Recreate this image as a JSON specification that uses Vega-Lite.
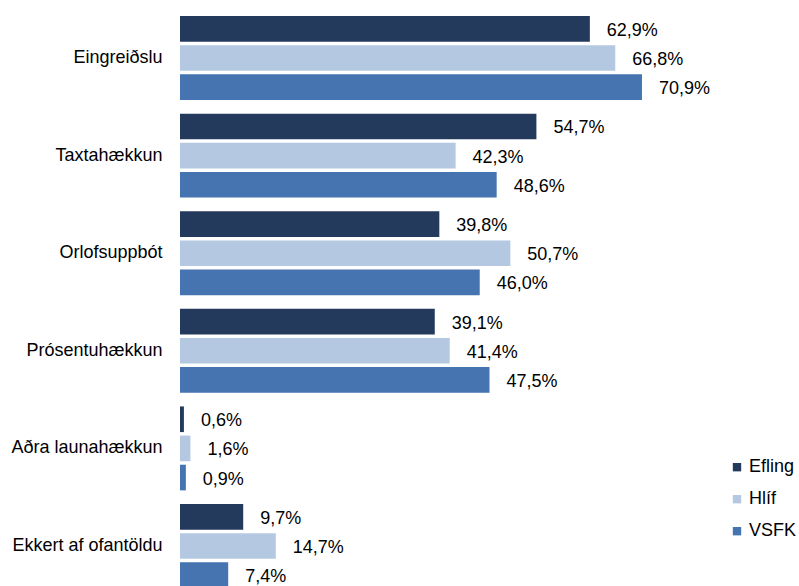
{
  "$schema": "https://vega.github.io/schema/vega-lite/v6.json",
  "width": 619,
  "height": 585.6,
  "autosize": {"type": "none"},
  "padding": {"left": 180, "top": 9.2, "right": 0, "bottom": 0},
  "background": "white",
  "config": {
    "view": {"stroke": null},
    "font": "Liberation Sans",
    "locale": {"number": {"decimal": ",", "thousands": ".", "grouping": [3], "currency": ["", " kr."]}}
  },
  "data": {
    "values": [
      {"category": "Eingreiðslu", "series": "Efling", "value": 0.629},
      {"category": "Eingreiðslu", "series": "Hlíf", "value": 0.668},
      {"category": "Eingreiðslu", "series": "VSFK", "value": 0.709},
      {"category": "Taxtahækkun", "series": "Efling", "value": 0.547},
      {"category": "Taxtahækkun", "series": "Hlíf", "value": 0.423},
      {"category": "Taxtahækkun", "series": "VSFK", "value": 0.486},
      {"category": "Orlofsuppbót", "series": "Efling", "value": 0.398},
      {"category": "Orlofsuppbót", "series": "Hlíf", "value": 0.507},
      {"category": "Orlofsuppbót", "series": "VSFK", "value": 0.460},
      {"category": "Prósentuhækkun", "series": "Efling", "value": 0.391},
      {"category": "Prósentuhækkun", "series": "Hlíf", "value": 0.414},
      {"category": "Prósentuhækkun", "series": "VSFK", "value": 0.475},
      {"category": "Aðra launahækkun", "series": "Efling", "value": 0.006},
      {"category": "Aðra launahækkun", "series": "Hlíf", "value": 0.016},
      {"category": "Aðra launahækkun", "series": "VSFK", "value": 0.009},
      {"category": "Ekkert af ofantöldu", "series": "Efling", "value": 0.097},
      {"category": "Ekkert af ofantöldu", "series": "Hlíf", "value": 0.147},
      {"category": "Ekkert af ofantöldu", "series": "VSFK", "value": 0.074}
    ]
  },
  "encoding": {
    "y": {
      "field": "category",
      "type": "nominal",
      "sort": null,
      "title": null,
      "scale": {"paddingInner": 0.14, "paddingOuter": 0.07},
      "axis": {"domain": false, "ticks": false, "labelFontSize": 18, "labelColor": "#000000", "labelPadding": 18, "labelFont": "Liberation Sans"}
    },
    "yOffset": {
      "field": "series",
      "type": "nominal",
      "sort": ["Efling", "Hlíf", "VSFK"],
      "scale": {"paddingInner": 0.12, "paddingOuter": 0}
    },
    "x": {
      "field": "value",
      "type": "quantitative",
      "scale": {"domain": [0, 0.95], "nice": false},
      "axis": null
    }
  },
  "layer": [
    {
      "mark": {"type": "bar"},
      "encoding": {
        "color": {
          "field": "series",
          "type": "nominal",
          "sort": ["Efling", "Hlíf", "VSFK"],
          "scale": {"domain": ["Efling", "Hlíf", "VSFK"], "range": ["#243a5c", "#b4c8e2", "#4574b0"]},
          "legend": {
            "orient": "none",
            "legendX": 548,
            "legendY": 449,
            "title": null,
            "symbolType": "square",
            "symbolSize": 70,
            "symbolStrokeWidth": 0,
            "labelFontSize": 18,
            "labelColor": "#000000",
            "labelFont": "Liberation Sans",
            "labelOffset": 3,
            "rowPadding": 14,
            "padding": 0
          }
        }
      }
    },
    {
      "mark": {"type": "text", "align": "left", "baseline": "middle", "dx": 17, "dy": 2, "fontSize": 18, "color": "#000000"},
      "encoding": {
        "text": {"field": "value", "type": "quantitative", "format": ".1%"}
      }
    }
  ]
}
